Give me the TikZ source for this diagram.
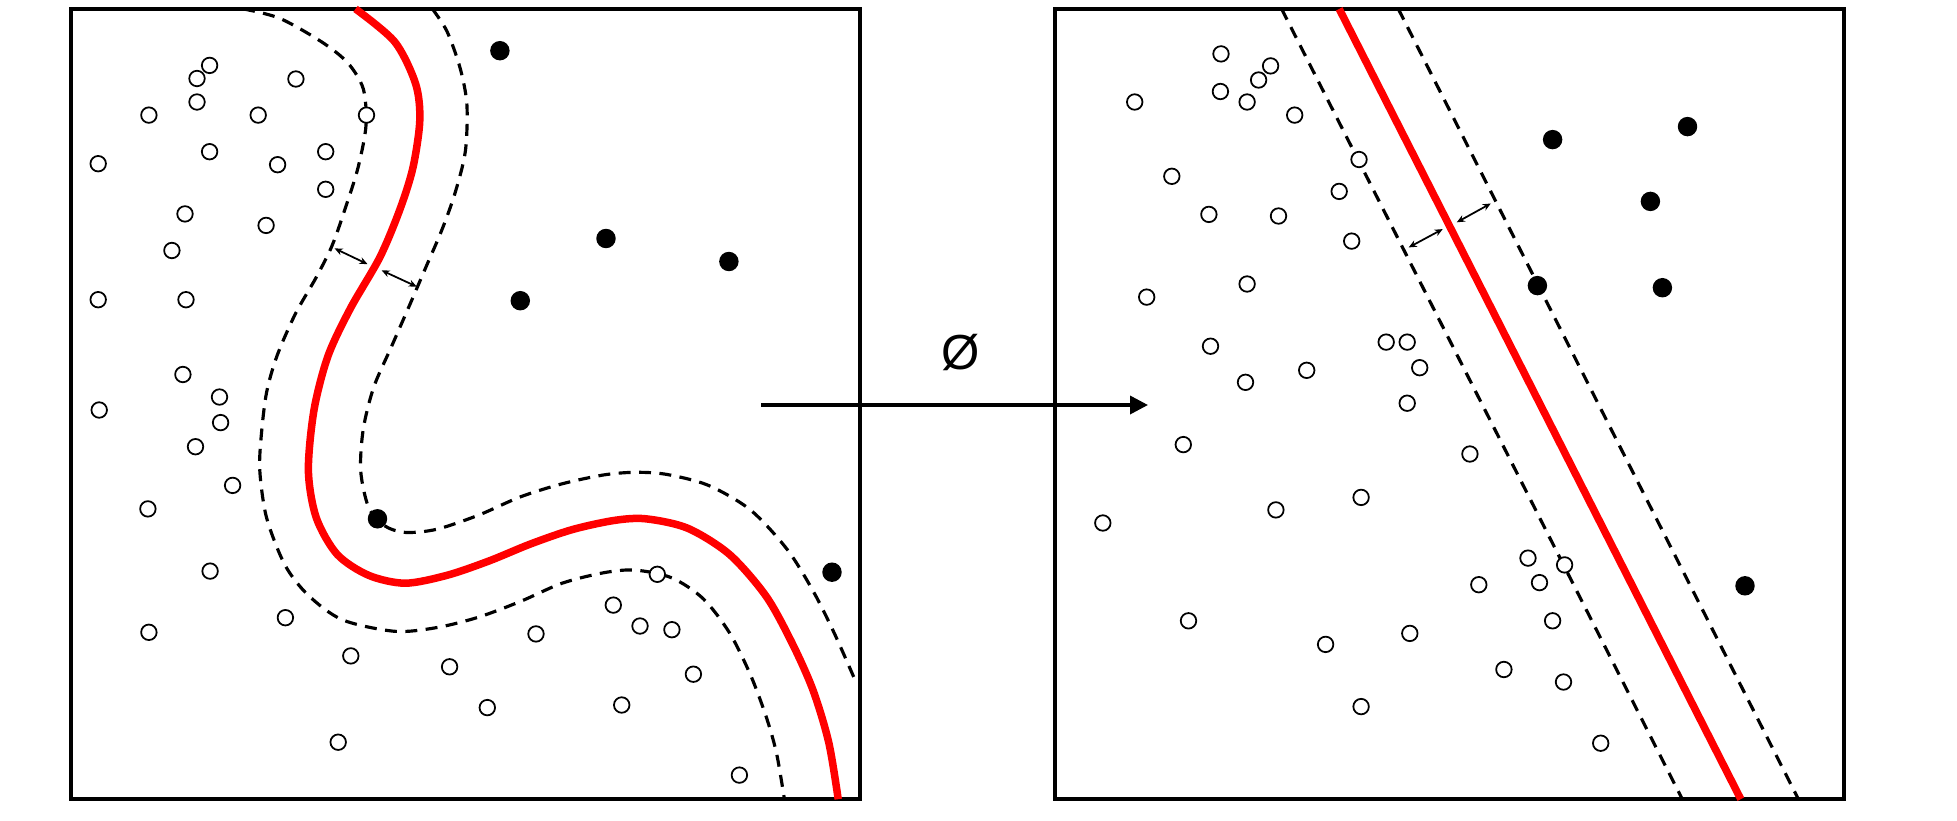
\documentclass[tikz,border=0pt]{standalone}
\usepackage{fontspec}
\setmainfont{Liberation Sans}
\usetikzlibrary{arrows.meta}

\begin{document}
\begin{tikzpicture}[
        x=0.01cm, y=-0.01cm,
        frame/.style={draw, line width=0.04cm, inner sep=0pt, minimum width=7.89cm, minimum height=7.9cm},
        opoint/.style={draw, circle, fill=white, inner sep=0pt, minimum size=0.155cm, line width=0.5pt},
        fpoint/.style={draw, circle, fill=black, inner sep=0pt, minimum size=0.18cm},
        boundary/.style={red, line width=0.075cm},
        margin/.style={dash pattern=on 3.4pt off 2.4pt, line width=0.9pt},
        gap/.style={{Stealth[length=0.08cm,width=0.07cm]}-{Stealth[length=0.08cm,width=0.07cm]}, line width=0.5pt},
    ]
    \useasboundingbox (0,0) rectangle (1957,821);

    % Define Frames (input space left, feature space right)
    \node[frame] (input) at (465.5,404) {};
    \node[frame] (feature) at (1449.5,404) {};

    % Define Margins and Decision Boundary in the input space
    \draw[margin] plot[smooth] coordinates {(243.1,8.9) (279.7,18.3) (321.5,41.8) (347.7,62.8) (363.3,88.9) (366.0,125.5) (358.1,167.4) (345.0,209.2) (332.0,245.8) (316.3,277.2) (295.4,313.8) (277.1,355.6) (266.6,392.3) (261.4,434.1) (259.8,470.7) (266.6,517.8) (284.9,564.9) (308,595) (342.4,619.8) (394.7,631.3) (436.6,627.6) (478.4,617.2) (520.3,601.5) (562.1,583.2) (603.9,572.7) (635.3,570.1) (671.9,577.9) (703.3,598.8) (729.5,632.8) (750.4,674.7) (766.1,716.5) (776.5,753.1) (784.4,799.2)};
    \draw[margin] plot[smooth] coordinates {(432.4,8.9) (447.0,31.4) (460.1,68.0) (466.9,104.6) (465.3,151.7) (454.9,193.5) (441.8,230.1) (426.1,266.7) (410.4,303.3) (392.1,345.2) (373.8,387.0) (363.3,428.9) (360.7,470.7) (368.6,507.3) (384.3,525.6) (405.2,532.4) (436.6,529.3) (478.4,515.2) (520.3,496.9) (562.1,483.8) (603.9,474.9) (635.3,472.3) (666.7,474.4) (708.5,485.4) (750.4,509.9) (787.0,549.2) (813.1,591.0) (834.1,632.8) (855.0,679.9)};
    \draw[boundary] plot[smooth] coordinates {(355.5,8.9) (394.7,41.8) (415.6,83.7) (419.8,120.3) (413.0,167.4) (400.0,209.2) (380,257) (350.3,308.6) (328,356) (314,410) (308.4,470.7) (316.3,517.8) (337.2,554.4) (368.6,575.3) (405.2,583.2) (447.0,575.3) (488.9,561) (530.7,543.9) (572.6,529.5) (614.4,520.4) (645.8,518.8) (687.6,528.2) (729.5,554.4) (766.1,596.2) (792.2,643.3) (813.1,690.4) (828.8,742.7) (838.2,799.2)};

    % Define Margins and Decision Boundary in the feature space
    \coordinate (ml1) at (1281.6,8.9);
    \coordinate (ml2) at (1682.3,799.2);
    \coordinate (b1) at (1339.2,8.9);
    \coordinate (b2) at (1740.8,799.2);
    \coordinate (mr1) at (1398.3,8.9);
    \coordinate (mr2) at (1798.4,799.2);
    \draw[margin] (ml1) -- (ml2);
    \draw[margin] (mr1) -- (mr2);
    \draw[boundary] (b1) -- (b2);

    % Margin widths
    \coordinate (g1) at (334.6,248.4);
    \coordinate (g2) at (367.5,264.1);
    \coordinate (g3) at (381.7,270.4);
    \coordinate (g4) at (416.7,286.6);
    \coordinate (h1) at (1408.7,247.4);
    \coordinate (h2) at (1442.7,229.1);
    \coordinate (h3) at (1456.8,222.3);
    \coordinate (h4) at (1490.8,203.5);
    \draw[gap] (g1) -- (g2);
    \draw[gap] (g3) -- (g4);
    \draw[gap] (h1) -- (h2);
    \draw[gap] (h3) -- (h4);

    % Define Samples in the input space
    \foreach \x/\y [count=\i] in {209.6/65.4, 197.0/78.5, 197.0/102.0, 295.9/79.0, 148.9/115.1, 258.2/115.1, 366.5/115.1, 98.2/163.7, 209.6/151.7, 277.6/164.7, 325.7/151.7, 325.7/189.3, 185.0/213.9, 266.1/225.4, 171.9/250.5, 98.2/299.7, 186.0/299.7, 182.9/374.5, 219.5/397.0, 220.6/422.6, 99.2/410.0, 195.5/446.7, 232.6/485.4, 147.9/508.9, 210.1/571.1, 148.9/632.3, 285.4/617.7, 350.8/655.9, 449.6/666.8, 536.0/633.9, 487.3/707.6, 338.2/742.2, 657.3/574.3, 613.3/605.1, 640.0/626.0, 671.9/629.7, 693.4/674.2, 621.7/705.0, 739.4/775.1}
        \node[opoint] (xo\i) at (\x,\y) {};
    \foreach \x/\y [count=\i] in {499.9/50.7, 606.0/238.5, 728.9/261.5, 520.3/300.7, 377.5/518.8, 832.0/572.2}
        \node[fpoint] (xf\i) at (\x,\y) {};

    % Define Samples in the feature space
    \foreach \x/\y [count=\i] in {1221.0/53.9, 1270.6/65.9, 1258.6/80.0, 1220.4/91.5, 1247.1/102.0, 1134.7/102.0, 1294.7/115.1, 1359.0/159.5, 1171.8/176.3, 1339.2/191.4, 1208.9/214.4, 1278.5/216.0, 1351.7/241.1, 1247.1/284.0, 1146.7/297.1, 1210.5/346.2, 1386.2/342.1, 1407.2/342.1, 1419.7/367.7, 1306.7/370.3, 1245.5/382.3, 1407.2/403.2, 1183.3/444.6, 1469.9/454.0, 1361.1/497.4, 1275.9/509.9, 1102.8/523.0, 1528.0/558.1, 1564.6/564.9, 1478.8/584.7, 1539.5/582.6, 1552.6/620.8, 1188.5/620.8, 1409.8/633.4, 1325.6/644.4, 1503.9/669.5, 1563.5/682.0, 1361.1/706.6, 1600.7/743.2}
        \node[opoint] (zo\i) at (\x,\y) {};
    \foreach \x/\y [count=\i] in {1552.6/139.6, 1687.5/126.6, 1650.4/201.4, 1537.4/285.6, 1662.4/287.7, 1745.0/585.8}
        \node[fpoint] (zf\i) at (\x,\y) {};

    % Draw Feature Map
    \coordinate (mapfrom) at (761,405);
    \coordinate (mapto) at (1148,405);
    \draw[line width=1pt, -{Triangle[length=0.18cm,width=0.18cm]}] (mapfrom) -- (mapto);
    \node[font=\fontsize{14}{16}\selectfont, inner sep=0pt] (phi) at (961,353) {Ø};
\end{tikzpicture}
\end{document}
